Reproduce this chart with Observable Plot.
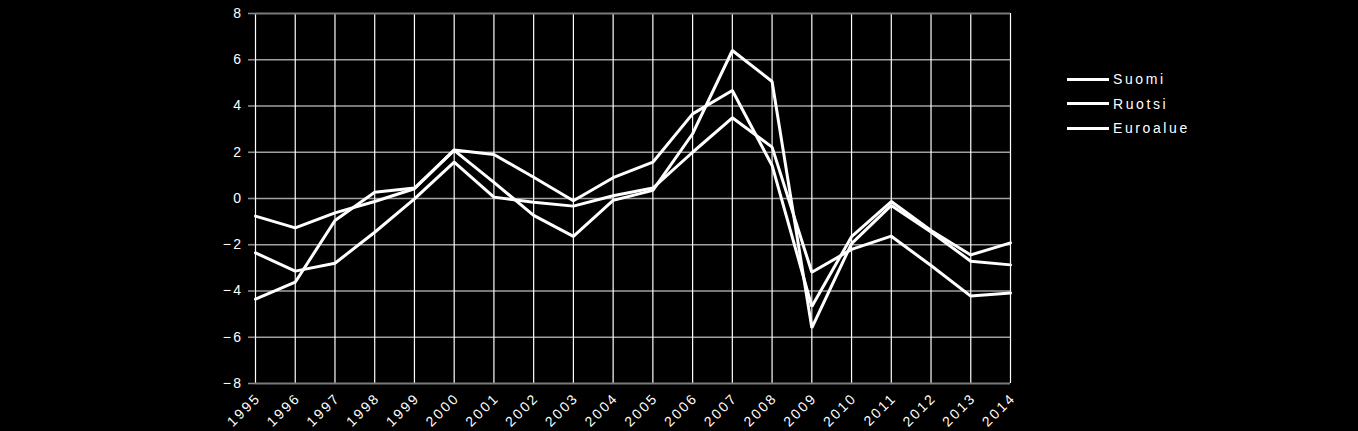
<!DOCTYPE html>
<html><head><meta charset="utf-8">
<script src="https://cdn.jsdelivr.net/npm/d3@7"></script>
<script src="https://cdn.jsdelivr.net/npm/@observablehq/plot@0.6"></script>
<style>
html,body{margin:0;padding:0;background:#000;}
#wrap{position:relative;width:1358px;height:431px;overflow:hidden;background:#000;}
.legend{position:absolute;left:1067px;top:67px;font-family:"Liberation Sans",Arial,sans-serif;font-size:14px;color:#fff;letter-spacing:2.6px}
.item{display:flex;align-items:center;height:24.5px}
.swatch{width:42px;height:3px;background:#fff;margin-right:4px}
</style></head><body>
<div id="wrap"></div>
<script>
const years = [1995,1996,1997,1998,1999,2000,2001,2002,2003,2004,2005,2006,2007,2008,2009,2010,2011,2012,2013,2014];
const suomi    = [-4.35,-3.62,-0.95,0.27,0.45,2.08,0.7,-0.73,-1.64,-0.08,0.35,2.8,6.4,5.06,-5.59,-1.95,-0.3,-1.45,-2.71,-2.87];
const ruotsi   = [-2.35,-3.14,-2.8,-1.46,-0.02,1.57,0.06,-0.16,-0.33,0.12,0.45,2.0,3.49,2.22,-3.19,-2.2,-1.63,-2.9,-4.22,-4.09];
const euroalue = [-0.76,-1.27,-0.62,-0.13,0.42,2.1,1.9,0.92,-0.1,0.9,1.57,3.66,4.67,1.43,-4.67,-1.65,-0.13,-1.38,-2.44,-1.92];
const seriesNames = ["Suomi","Ruotsi","Euroalue"];
const yTicks = [-8,-6,-4,-2,0,2,4,6,8];
const yInner = [-6,-4,-2,0,2,4,6];
const yEdges = [-8,8];

const seriesValues = [suomi, ruotsi, euroalue];
const rows = [];
seriesNames.forEach((name, i) => {
  years.forEach((yr, j) => rows.push({series: name, year: yr, value: seriesValues[i][j]}));
});

const chart = Plot.plot({
  width: 1358, height: 431,
  marginLeft: 255, marginRight: 348, marginTop: 13, marginBottom: 48,
  style: {background: "#000", color: "#fff", fontFamily: "'Liberation Sans', Arial, sans-serif", fontSize: "14px", letterSpacing: "2.4px"},
  x: {domain: [1995, 2014]},
  y: {domain: [-8, 8]},
  marks: [
    Plot.gridY(yInner, {stroke: "#a0a0a0", strokeOpacity: 1, strokeWidth: 1.3}),
    Plot.gridX(years, {stroke: "#fff", strokeOpacity: 1, strokeWidth: 1.2}),
    Plot.gridY(yEdges, {stroke: "#7a7a7a", strokeOpacity: 1, strokeWidth: 2}),
    Plot.axisY(yTicks, {tickSize: 7, tickPadding: 5, stroke: "#8a8a8a", strokeWidth: 1.6, label: null, fill: "#fff"}),
    Plot.axisX(years, {tickRotate: -45, tickSize: 0, tickPadding: 12, dx: 3, label: null, tickFormat: d => String(d), fill: "#fff"}),
    Plot.line(rows, {x: "year", y: "value", z: "series", stroke: "#fff", strokeWidth: 3, strokeLinejoin: "miter"})
  ]
});
const wrap = document.getElementById("wrap");
wrap.appendChild(chart);

const legend = document.createElement("div");
legend.className = "legend";
seriesNames.forEach(name => {
  const it = document.createElement("div");
  it.className = "item";
  const sw = document.createElement("span");
  sw.className = "swatch";
  const tx = document.createElement("span");
  tx.textContent = name;
  it.appendChild(sw); it.appendChild(tx);
  legend.appendChild(it);
});
wrap.appendChild(legend);
</script>
</body></html>
